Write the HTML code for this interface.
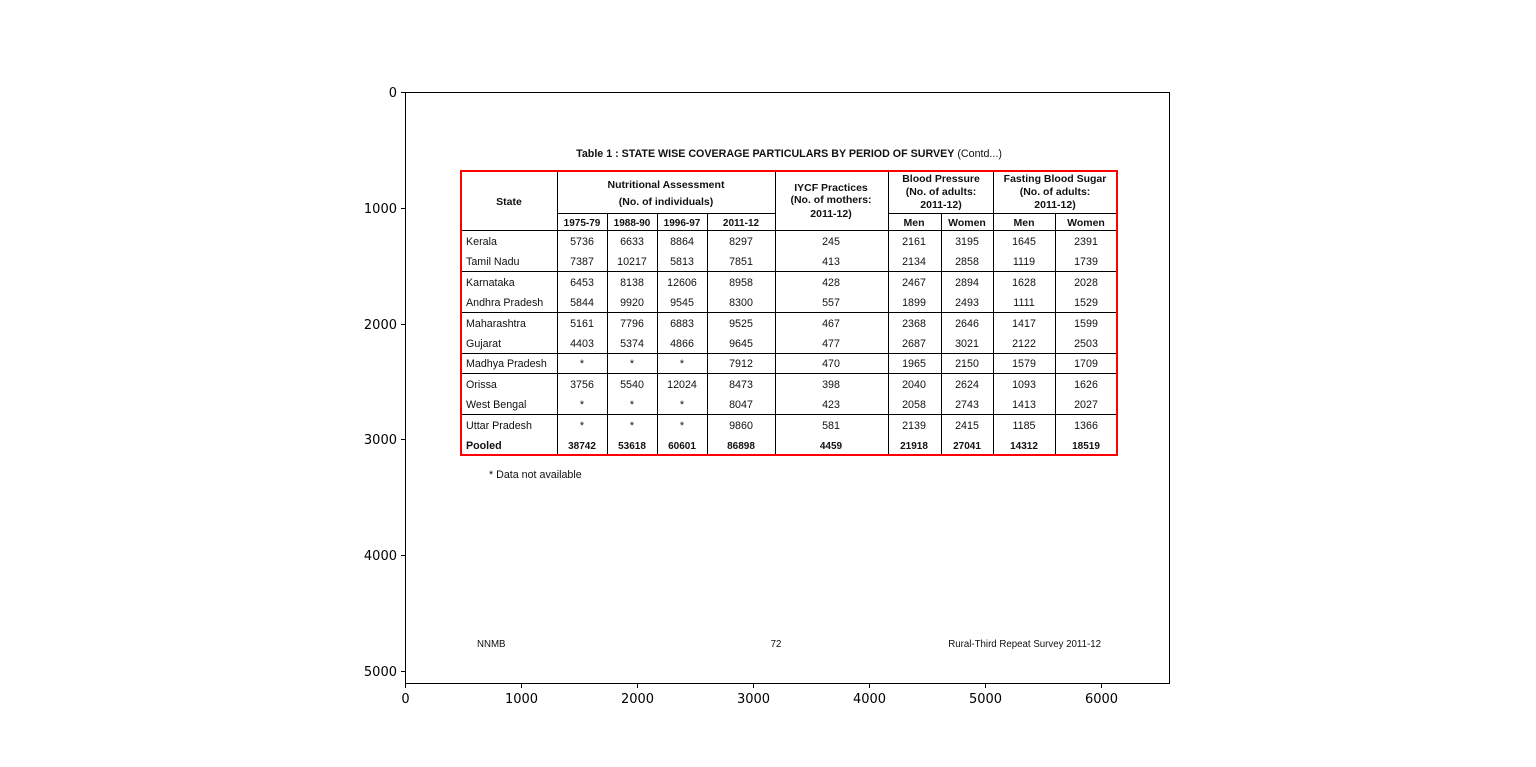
<!DOCTYPE html>
<html><head><meta charset="utf-8"><style>
html,body{margin:0;padding:0;background:#fff}
svg{display:block}
.t{font-family:"Liberation Sans",Arial,sans-serif;font-size:11px;fill:#111}
.b{font-weight:bold}
.ax{font-family:"DejaVu Sans",sans-serif;font-size:13px;fill:#000}
</style></head><body>
<svg width="1536" height="767" viewBox="0 0 1536 767" xmlns="http://www.w3.org/2000/svg">
<rect width="1536" height="767" fill="#fff"/>
<rect x="405.5" y="92.5" width="764" height="591" fill="#fff" stroke="#000" stroke-width="1"/>
<g stroke="#000" stroke-width="1">
<line x1="405.5" y1="683.5" x2="405.5" y2="688"/>
<line x1="521.5" y1="683.5" x2="521.5" y2="688"/>
<line x1="637.5" y1="683.5" x2="637.5" y2="688"/>
<line x1="753.5" y1="683.5" x2="753.5" y2="688"/>
<line x1="869.5" y1="683.5" x2="869.5" y2="688"/>
<line x1="985.5" y1="683.5" x2="985.5" y2="688"/>
<line x1="1101.5" y1="683.5" x2="1101.5" y2="688"/>
<line x1="401" y1="92.5" x2="405.5" y2="92.5"/>
<line x1="401" y1="208.5" x2="405.5" y2="208.5"/>
<line x1="401" y1="324.5" x2="405.5" y2="324.5"/>
<line x1="401" y1="439.5" x2="405.5" y2="439.5"/>
<line x1="401" y1="555.5" x2="405.5" y2="555.5"/>
<line x1="401" y1="671.5" x2="405.5" y2="671.5"/>
</g>
<g class="ax" text-anchor="middle">
<text x="405.5" y="703">0</text><text x="521.5" y="703">1000</text><text x="637.5" y="703">2000</text>
<text x="753.5" y="703">3000</text><text x="869.5" y="703">4000</text><text x="985.5" y="703">5000</text><text x="1101.5" y="703">6000</text>
</g>
<g class="ax" text-anchor="end">
<text x="397" y="97">0</text><text x="397" y="213">1000</text><text x="397" y="329">2000</text>
<text x="397" y="444">3000</text><text x="397" y="560">4000</text><text x="397" y="676">5000</text>
</g>
<text class="t" x="789" y="157" text-anchor="middle" style="font-size:10.7px"><tspan class="b">Table 1 : STATE WISE COVERAGE PARTICULARS BY PERIOD OF SURVEY</tspan> (Contd...)</text>
<g stroke="#000" stroke-width="1">
<line x1="557.5" y1="171" x2="557.5" y2="455"/>
<line x1="775.5" y1="171" x2="775.5" y2="455"/>
<line x1="888.5" y1="171" x2="888.5" y2="455"/>
<line x1="993.5" y1="171" x2="993.5" y2="455"/>
<line x1="607.5" y1="213" x2="607.5" y2="455"/>
<line x1="657.5" y1="213" x2="657.5" y2="455"/>
<line x1="707.5" y1="213" x2="707.5" y2="455"/>
<line x1="941.5" y1="213" x2="941.5" y2="455"/>
<line x1="1055.5" y1="213" x2="1055.5" y2="455"/>
<line x1="557" y1="213.5" x2="775" y2="213.5"/>
<line x1="888" y1="213.5" x2="1117" y2="213.5"/>
<line x1="461" y1="230.5" x2="1117" y2="230.5"/>
<line x1="461" y1="271.5" x2="1117" y2="271.5"/>
<line x1="461" y1="312.5" x2="1117" y2="312.5"/>
<line x1="461" y1="353.5" x2="1117" y2="353.5"/>
<line x1="461" y1="373.5" x2="1117" y2="373.5"/>
<line x1="461" y1="414.5" x2="1117" y2="414.5"/>
</g>
<rect x="461" y="171" width="656" height="284" fill="none" stroke="#f00" stroke-width="2"/>
<g class="t b" text-anchor="middle" style="font-size:10.5px">
<text x="509" y="205">State</text>
<text x="666" y="188">Nutritional Assessment</text>
<text x="666" y="205">(No. of individuals)</text>
<text x="582" y="226" style="font-size:10px">1975-79</text>
<text x="632" y="226" style="font-size:10px">1988-90</text>
<text x="682" y="226" style="font-size:10px">1996-97</text>
<text x="741" y="226" style="font-size:10px">2011-12</text>
<text x="831" y="191">IYCF Practices</text>
<text x="831" y="203">(No. of mothers:</text>
<text x="831" y="217">2011-12)</text>
<text x="941" y="182">Blood Pressure</text>
<text x="941" y="195">(No. of adults:</text>
<text x="941" y="208">2011-12)</text>
<text x="1055" y="182">Fasting  Blood Sugar</text>
<text x="1055" y="195">(No. of adults:</text>
<text x="1055" y="208">2011-12)</text>
<text x="914" y="226">Men</text><text x="967" y="226">Women</text>
<text x="1024" y="226">Men</text><text x="1086" y="226">Women</text>
</g>
<g class="t" style="font-size:10.7px">
<g text-anchor="start">
<text x="466" y="245">Kerala</text><text x="466" y="265">Tamil Nadu</text>
<text x="466" y="286">Karnataka</text><text x="466" y="306">Andhra Pradesh</text>
<text x="466" y="327">Maharashtra</text><text x="466" y="347">Gujarat</text>
<text x="466" y="367">Madhya Pradesh</text>
<text x="466" y="388">Orissa</text><text x="466" y="408">West Bengal</text>
<text x="466" y="429">Uttar Pradesh</text><text x="466" y="449" class="b">Pooled</text>
</g>
<g text-anchor="middle">
<text x="582" y="245">5736</text><text x="632" y="245">6633</text><text x="682" y="245">8864</text><text x="741" y="245">8297</text><text x="831" y="245">245</text><text x="914" y="245">2161</text><text x="967" y="245">3195</text><text x="1024" y="245">1645</text><text x="1086" y="245">2391</text>
<text x="582" y="265">7387</text><text x="632" y="265">10217</text><text x="682" y="265">5813</text><text x="741" y="265">7851</text><text x="831" y="265">413</text><text x="914" y="265">2134</text><text x="967" y="265">2858</text><text x="1024" y="265">1119</text><text x="1086" y="265">1739</text>
<text x="582" y="286">6453</text><text x="632" y="286">8138</text><text x="682" y="286">12606</text><text x="741" y="286">8958</text><text x="831" y="286">428</text><text x="914" y="286">2467</text><text x="967" y="286">2894</text><text x="1024" y="286">1628</text><text x="1086" y="286">2028</text>
<text x="582" y="306">5844</text><text x="632" y="306">9920</text><text x="682" y="306">9545</text><text x="741" y="306">8300</text><text x="831" y="306">557</text><text x="914" y="306">1899</text><text x="967" y="306">2493</text><text x="1024" y="306">1111</text><text x="1086" y="306">1529</text>
<text x="582" y="327">5161</text><text x="632" y="327">7796</text><text x="682" y="327">6883</text><text x="741" y="327">9525</text><text x="831" y="327">467</text><text x="914" y="327">2368</text><text x="967" y="327">2646</text><text x="1024" y="327">1417</text><text x="1086" y="327">1599</text>
<text x="582" y="347">4403</text><text x="632" y="347">5374</text><text x="682" y="347">4866</text><text x="741" y="347">9645</text><text x="831" y="347">477</text><text x="914" y="347">2687</text><text x="967" y="347">3021</text><text x="1024" y="347">2122</text><text x="1086" y="347">2503</text>
<text x="582" y="367">*</text><text x="632" y="367">*</text><text x="682" y="367">*</text><text x="741" y="367">7912</text><text x="831" y="367">470</text><text x="914" y="367">1965</text><text x="967" y="367">2150</text><text x="1024" y="367">1579</text><text x="1086" y="367">1709</text>
<text x="582" y="388">3756</text><text x="632" y="388">5540</text><text x="682" y="388">12024</text><text x="741" y="388">8473</text><text x="831" y="388">398</text><text x="914" y="388">2040</text><text x="967" y="388">2624</text><text x="1024" y="388">1093</text><text x="1086" y="388">1626</text>
<text x="582" y="408">*</text><text x="632" y="408">*</text><text x="682" y="408">*</text><text x="741" y="408">8047</text><text x="831" y="408">423</text><text x="914" y="408">2058</text><text x="967" y="408">2743</text><text x="1024" y="408">1413</text><text x="1086" y="408">2027</text>
<text x="582" y="429">*</text><text x="632" y="429">*</text><text x="682" y="429">*</text><text x="741" y="429">9860</text><text x="831" y="429">581</text><text x="914" y="429">2139</text><text x="967" y="429">2415</text><text x="1024" y="429">1185</text><text x="1086" y="429">1366</text>
<g class="b" style="font-size:10px">
<text x="582" y="449">38742</text><text x="632" y="449">53618</text><text x="682" y="449">60601</text><text x="741" y="449">86898</text><text x="831" y="449">4459</text><text x="914" y="449">21918</text><text x="967" y="449">27041</text><text x="1024" y="449">14312</text><text x="1086" y="449">18519</text>
</g>
</g>
<text x="489" y="478">* Data not available</text>
<text x="477" y="647" style="font-size:9.7px">NNMB</text>
<text x="776" y="647" text-anchor="middle" style="font-size:9.7px">72</text>
<text x="1101" y="647" text-anchor="end" style="font-size:9.7px">Rural-Third Repeat Survey 2011-12</text>
</g>
</svg>
</body></html>
